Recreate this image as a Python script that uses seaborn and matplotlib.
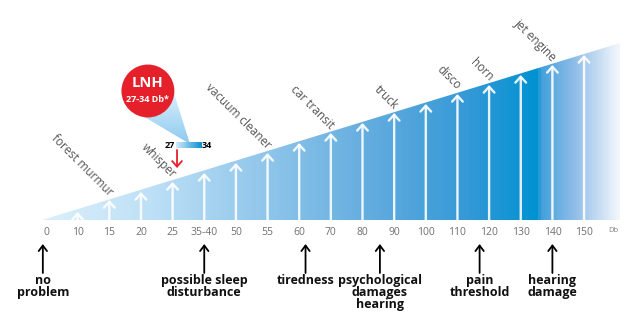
import numpy as np
import matplotlib
matplotlib.use("Agg")
import matplotlib.pyplot as plt
import seaborn as sns
from matplotlib.colors import LinearSegmentedColormap
from matplotlib.patches import Polygon
import pandas as pd

# sound levels on the scale (categorical axis)
levels = ["0", "10", "15", "20", "25", "35-40", "50", "55", "60", "70",
          "80", "90", "100", "110", "120", "130", "140", "150"]
# height of the white arrow for each level (0 = no arrow)
arrow_heights = [0, 8, 20, 28, 38, 47, 57, 67, 77, 87, 97, 107, 116, 126, 135, 145, 155, 165]

# noise sources written along the wedge
sources = ["forest murmur", "whisper", "vacuum cleaner", "car transit",
           "truck", "disco", "horn", "jet engine"]
source_levels = ["15", "25", "55", "70", "90", "110", "120", "140"]

# effects under the scale, with position on the level axis
effects = ["no\nproblem", "possible sleep\ndisturbance", "tiredness",
           "psychological\ndamages\nhearing", "pain\nthreshold", "hearing\ndamage"]
effect_pos = [-0.1, 5, 8.2, 10.55, 13.7, 16]

# LNH callout
lnh_title = "LNH"
lnh_range = "27-34 Db*"
lnh_low, lnh_high = "27", "34"

sns.set_theme(style="white")
plt.rcParams["font.family"] = ["Open Sans", "DejaVu Sans"]

fig = plt.figure(figsize=(6.25, 3.12), dpi=100)
ax = fig.add_axes([0, 0, 1, 1])
ax.set_facecolor("white")

# wedge shape
wedge_x0, wedge_x1, wedge_top = -0.12, 18.14, 177
wedge = Polygon([(wedge_x0, 0), (wedge_x1, 0), (wedge_x1, wedge_top)],
                closed=True, facecolor="none", edgecolor="none")
ax.add_patch(wedge)

# colour ramp of the wedge
span = 619 - 42
stops = [(42, "#dcf0fb"), (150, "#bde0f6"), (260, "#92c7eb"), (380, "#5eaade"),
         (470, "#3399d6"), (538, "#0092d2"), (541, "#42a0da"), (575, "#8fbde8"),
         (619, "#f2f6fc")]
cmap = LinearSegmentedColormap.from_list(
    "wedge", [((p - 42) / span, c) for p, c in stops])
grad = np.linspace(0, 1, 600).reshape(1, -1)
img = ax.imshow(grad, extent=[wedge_x0, wedge_x1, 0, wedge_top], cmap=cmap,
                aspect="auto", origin="lower", zorder=1)
img.set_clip_path(wedge)

# white arrows
for i, h in enumerate(arrow_heights):
    if h <= 0:
        continue
    ax.annotate("", xy=(i, h), xytext=(i, 0),
                arrowprops=dict(arrowstyle="->,head_length=0.35,head_width=0.32",
                                color="white", lw=1.7, alpha=0.9,
                                shrinkA=0, shrinkB=0, mutation_scale=12),
                zorder=3)

# source labels
for name, lev in zip(sources, source_levels):
    i = levels.index(lev)
    ax.text(i + 0.05, arrow_heights[i] + 6, name, rotation=-45,
            rotation_mode="anchor", ha="right", va="center",
            fontsize=8.5, color="#555555", zorder=4)

# tick labels on the scale
ax.set_xticks(range(len(levels)), levels)
ax.spines["bottom"].set_position(("data", 0))
ax.tick_params(axis="x", length=0, pad=5, labelsize=7.5, labelcolor="#707070")
ax.set_yticks([])
sns.despine(ax=ax, left=True, bottom=True)
ax.text(17.94, -11, "Db", fontsize=5.5, color="#808080", va="center", ha="center")

# effects below
for name, pos in zip(effects, effect_pos):
    ax.annotate("", xy=(pos, -24), xytext=(pos, -53),
                arrowprops=dict(arrowstyle="->,head_length=0.4,head_width=0.3",
                                color="black", lw=1.3, shrinkA=0, shrinkB=0,
                                mutation_scale=10))
    ax.text(pos, -54, name, ha="center", va="top", fontsize=9,
            fontweight="bold", color="#111111", linespacing=0.92)

# LNH callout: funnel (gradient), bubble, small gradient bar, red arrow
funnel = Polygon([(2.95, 106), (3.98, 133), (4.55, 76)], closed=True,
                 facecolor="none", edgecolor="none", zorder=4)
ax.add_patch(funnel)
funnel_cmap = LinearSegmentedColormap.from_list("funnel", ["#8ccaf0", "#e2f2fc"])
fimg = ax.imshow(np.linspace(0, 1, 100).reshape(-1, 1), extent=[2.9, 4.6, 76, 133],
                 cmap=funnel_cmap, aspect="auto", origin="lower", zorder=4)
fimg.set_clip_path(funnel)

bubble = pd.DataFrame({"x": [3.22], "y": [129]})
sns.scatterplot(data=bubble, x="x", y="y", s=1450, color="#e5202a",
                edgecolor="none", ax=ax, zorder=5, legend=False)
ax.text(3.22, 137, lnh_title, ha="center", va="center", fontsize=10.5,
        fontweight="bold", color="white", zorder=6)
ax.text(3.22, 120, lnh_range, ha="center", va="center", fontsize=6.5,
        fontweight="bold", color="white", zorder=6)

bar_cmap = LinearSegmentedColormap.from_list("bar", ["#d3ebfa", "#0a8fd0"])
ax.imshow(grad, extent=[4.11, 4.9, 72, 78], cmap=bar_cmap, aspect="auto",
          origin="lower", zorder=6)
ax.text(4.07, 75, lnh_low, ha="right", va="center", fontsize=6.5,
        fontweight="bold", color="black", zorder=6)
ax.text(4.93, 75, lnh_high, ha="left", va="center", fontsize=6.5,
        fontweight="bold", color="black", zorder=6)
ax.annotate("", xy=(4.14, 52), xytext=(4.14, 70),
            arrowprops=dict(arrowstyle="->,head_length=0.4,head_width=0.35",
                            color="#e5202a", lw=1.3, shrinkA=0, shrinkB=0,
                            mutation_scale=10), zorder=6)

ax.set_xlim(-46 / 31.65, (625 - 46) / 31.65)
ax.set_ylim(-92, 220)
ax.set_xlabel("")
ax.set_ylabel("")

fig.savefig("out.png", dpi=100)
